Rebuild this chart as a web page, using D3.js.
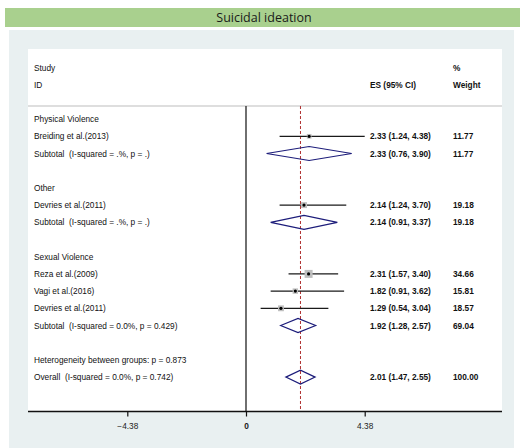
<!DOCTYPE html>
<html>
<head>
<meta charset="utf-8">
<script src="https://cdn.jsdelivr.net/npm/d3@7"></script>
<style>
  html, body { margin: 0; padding: 0; background: #ffffff; }
  svg { display: block; }
  text { white-space: pre; }
</style>
</head>
<body>
<svg id="chart" width="520" height="448"></svg>
<script>
// ---------------- DATA ----------------
const title = "Suicidal ideation";
const groupNames = ["Physical Violence", "Other", "Sexual Violence"];
const studyNames = ["Breiding et al.(2013)", "Devries et al.(2011)", "Reza et al.(2009)", "Vagi et al.(2016)", "Devries et al.(2011)"];
const studyGroup = [0, 1, 2, 2, 2];
const studyES = [2.33, 2.14, 2.31, 1.82, 1.29];
const studyLo = [1.24, 1.24, 1.57, 0.91, 0.54];
const studyHi = [4.38, 3.70, 3.40, 3.62, 3.04];
const studyWeight = [11.77, 19.18, 34.66, 15.81, 18.57];
const subtotalLabels = ["Subtotal  (I-squared = .%, p = .)", "Subtotal  (I-squared = .%, p = .)", "Subtotal  (I-squared = 0.0%, p = 0.429)"];
const subtotalES = [2.33, 2.14, 1.92];
const subtotalLo = [0.76, 0.91, 1.28];
const subtotalHi = [3.90, 3.37, 2.57];
const subtotalWeight = [11.77, 19.18, 69.04];
const heterogeneityLabel = "Heterogeneity between groups: p = 0.873";
const overallLabel = "Overall  (I-squared = 0.0%, p = 0.742)";
const overallES = 2.01, overallLo = 1.47, overallHi = 2.55, overallWeight = 100.00;
const axisTicks = [-4.38, 0, 4.38];

// ---------------- BUILD ROWS ----------------
const rows = [];
let r = 3;
groupNames.forEach((g, gi) => {
  rows.push({ row: r++, type: "group", label: g });
  studyNames.forEach((s, si) => {
    if (studyGroup[si] === gi) {
      rows.push({ row: r++, type: "study", label: s, es: studyES[si], lo: studyLo[si], hi: studyHi[si], w: studyWeight[si] });
    }
  });
  rows.push({ row: r++, type: "subtotal", label: subtotalLabels[gi], es: subtotalES[gi], lo: subtotalLo[gi], hi: subtotalHi[gi], w: subtotalWeight[gi] });
  r++; // blank row
});
rows.push({ row: r++, type: "group", label: heterogeneityLabel });
rows.push({ row: r++, type: "subtotal", label: overallLabel, es: overallES, lo: overallLo, hi: overallHi, w: overallWeight });
const axisRow = r + 1;

// ---------------- LAYOUT ----------------
const svg = d3.select("#chart");
const font = "'Liberation Sans', Arial, Helvetica, sans-serif";
const fs = 8.3;

const x = d3.scaleLinear().domain([-4.38, 4.38]).range([127.3, 364.7]);
const y = d3.scaleLinear().domain([0, 20]).range([67.5, 67.5 + 20 * 17.2]);
const baseOff = 3.1;

const labelX = 34, esX = 370, wX = 453;
const plotTop = 106, plotBottom = y(axisRow);

// backgrounds
svg.append("rect").attr("x", 5).attr("y", 8).attr("width", 515).attr("height", 19).attr("fill", "#a9d08e");
svg.append("text").attr("x", 264).attr("y", 22).attr("text-anchor", "middle")
  .attr("font-family", "'Open Sans', 'Noto Sans', sans-serif").attr("font-size", 12.5).attr("fill", "#1a1a1a")
  .text(title);
svg.append("rect").attr("x", 9).attr("y", 30).attr("width", 505).attr("height", 418).attr("fill", "#e9f0f1");
svg.append("rect").attr("x", 28).attr("y", 49).attr("width", 474).attr("height", plotBottom - 49).attr("fill", "#ffffff");

// header
const txt = (xx, yy, s, bold, anchor) => svg.append("text")
  .attr("x", xx).attr("y", yy).attr("font-family", font).attr("font-size", fs)
  .attr("font-weight", bold ? "bold" : "normal").attr("fill", "#111")
  .attr("text-anchor", anchor || "start").attr("xml:space", "preserve").text(s);

txt(labelX, y(0) + baseOff, "Study");
txt(labelX, y(1) + baseOff, "ID");
txt(esX, y(1) + baseOff, "ES (95% CI)", true);
txt(wX, y(0) + baseOff, "%", true);
txt(wX, y(1) + baseOff, "Weight", true);

svg.append("line").attr("x1", 28).attr("x2", 502).attr("y1", plotTop).attr("y2", plotTop)
  .attr("stroke", "#bdbdbd").attr("stroke-width", 1);

// null line
svg.append("line").attr("x1", x(0)).attr("x2", x(0)).attr("y1", plotTop).attr("y2", plotBottom)
  .attr("stroke", "#333").attr("stroke-width", 1.4);

// overall dashed line
svg.append("line").attr("x1", x(overallES)).attr("x2", x(overallES)).attr("y1", plotTop).attr("y2", plotBottom)
  .attr("stroke", "#b03030").attr("stroke-width", 1).attr("stroke-dasharray", "3,2");

// rows
const fmt = d3.format(".2f");
rows.forEach(d => {
  const cy = y(d.row);
  txt(labelX, cy + baseOff, d.label);
  if (d.type === "study") {
    svg.append("line").attr("x1", x(d.lo)).attr("x2", x(d.hi)).attr("y1", cy).attr("y2", cy)
      .attr("stroke", "#1a1a1a").attr("stroke-width", 1.3);
    const side = 1.36 * Math.sqrt(d.w);
    svg.append("rect").attr("x", x(d.es) - side / 2).attr("y", cy - side / 2)
      .attr("width", side).attr("height", side).attr("fill", "#bfbfbf");
    svg.append("circle").attr("cx", x(d.es)).attr("cy", cy).attr("r", 1.6).attr("fill", "#000");
  }
  if (d.type === "subtotal") {
    const pts = [[x(d.lo), cy], [x(d.es), cy - 7], [x(d.hi), cy], [x(d.es), cy + 7]];
    svg.append("polygon").attr("points", pts.map(p => p.join(",")).join(" "))
      .attr("fill", "none").attr("stroke", "#1c1c7a").attr("stroke-width", 1.2);
  }
  if (d.type === "study" || d.type === "subtotal") {
    txt(esX, cy + baseOff, `${fmt(d.es)} (${fmt(d.lo)}, ${fmt(d.hi)})`, true);
    txt(wX, cy + baseOff, fmt(d.w), true);
  }
});

// x axis
const axis = d3.axisBottom(x).tickValues(axisTicks).tickSize(5).tickFormat(d => d === 0 ? "0" : fmt(d));
const ax = svg.append("g").attr("transform", `translate(0,${plotBottom})`).call(axis);
ax.select(".domain").remove();
ax.append("line").attr("x1", 28).attr("x2", 502).attr("y1", 0).attr("y2", 0).attr("stroke", "#111").attr("stroke-width", 1.3);
ax.selectAll(".tick line").attr("stroke", "#111").attr("stroke-width", 1.2);
ax.selectAll(".tick text").attr("font-family", font).attr("font-size", fs).attr("fill", "#222").attr("dy", "1.15em")
  .attr("font-weight", d => d === 0 ? "bold" : "normal");
</script>
</body>
</html>
